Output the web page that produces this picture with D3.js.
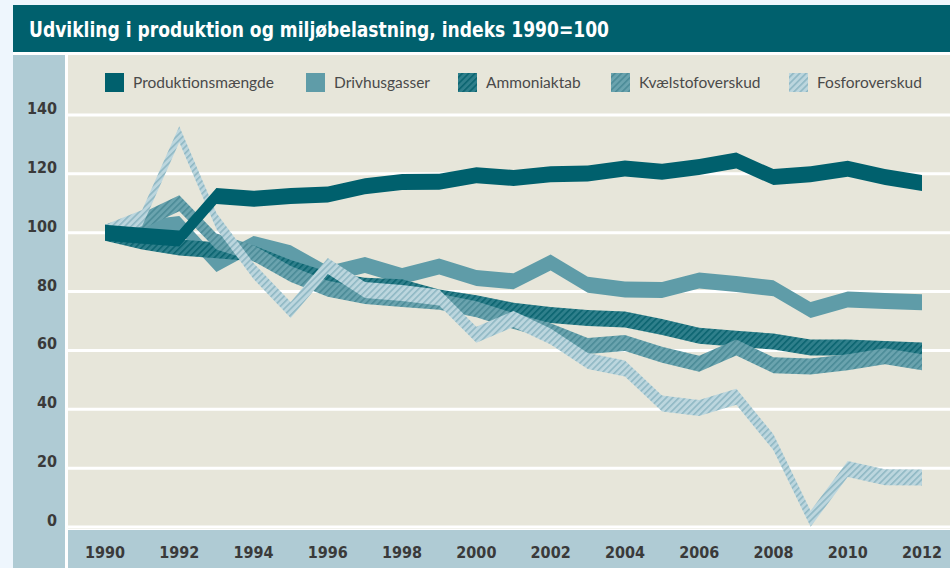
<!DOCTYPE html>
<html>
<head>
<meta charset="utf-8">
<script src="https://cdn.jsdelivr.net/npm/d3@7"></script>
<style>
  html, body { margin: 0; padding: 0; background: #eef6fd; }
  svg { display: block; }
</style>
</head>
<body>
<div id="chart"></div>
<script>
// Data
var years = d3.range(1990, 2013);
var produktion = [100, 99, 98, 112.5, 111.5, 112.5, 113, 115.8, 117.2, 117.3, 119.5, 118.6, 119.9, 120.1, 121.8, 120.7, 122.3, 124.5, 118.9, 119.9, 121.7, 118.9, 116.9];
var drivhus = [100, 101.5, 103, 89.4, 96.2, 93, 86, 89, 85.3, 88.5, 84.6, 83.5, 89.9, 82.3, 80.7, 80.5, 83.8, 82.6, 81.1, 73.7, 77.3, 76.8, 76.4];
var ammoniak = [100, 97, 95, 94, 93, 88, 84, 82, 81.5, 78, 76, 73.5, 72, 71, 70.5, 68, 65, 64, 63, 61, 61, 60.5, 60];
var kvaelstof = [100, 104, 110, 97, 93, 86, 81, 78.5, 77.5, 76.5, 74, 70, 66.5, 61.5, 62.5, 58.5, 55.5, 61, 55, 54.5, 56, 58, 56];
var fosfor = [100, 105, 133.5, 104, 87, 73.7, 88.7, 80.5, 79.5, 78, 65.3, 70.7, 64.7, 56.4, 53.9, 42, 40.4, 44.3, 28.8, 2.8, 19.7, 16.9, 16.8];
var yTicks = [0, 20, 40, 60, 80, 100, 120, 140];
var xTicks = [1990, 1992, 1994, 1996, 1998, 2000, 2002, 2004, 2006, 2008, 2010, 2012];

var series = [
  { name: 'Drivhusgasser', values: drivhus, fill: '#5f9ca8' },
  { name: 'Ammoniaktab', values: ammoniak, fill: 'url(#hatch-amm)' },
  { name: 'Kvælstofoverskud', values: kvaelstof, fill: 'url(#hatch-kv)' },
  { name: 'Fosforoverskud', values: fosfor, fill: 'url(#hatch-fos)' },
  { name: 'Produktionsmængde', values: produktion, fill: '#00606d' }
];
var legendOrder = ['Produktionsmængde', 'Drivhusgasser', 'Ammoniaktab', 'Kvælstofoverskud', 'Fosforoverskud'];
var legendX = [105, 306, 458, 611, 789];

var W = 950, H = 568;
var COND = '"Liberation Sans Narrow", "DejaVu Sans Condensed", "Roboto Condensed", sans-serif';
var LEG = 'Lato, "Open Sans", sans-serif';

var svg = d3.select('#chart').append('svg').attr('width', W).attr('height', H);
var defs = svg.append('defs');

function hatch(id, base, stripe) {
  var p = defs.append('pattern').attr('id', id).attr('patternUnits', 'userSpaceOnUse')
    .attr('width', 4.5).attr('height', 4.5).attr('patternTransform', 'rotate(45)');
  p.append('rect').attr('width', 4.5).attr('height', 4.5).attr('fill', base);
  p.append('rect').attr('width', 1.6).attr('height', 4.5).attr('fill', stripe);
}
hatch('hatch-amm', '#2f7f8b', '#0b6470');
hatch('hatch-kv', '#6aa3ae', '#4b8b97');
hatch('hatch-fos', '#bcd6de', '#8fb8c4');

// Frame pieces
svg.append('rect').attr('x', 13).attr('y', 5).attr('width', W - 13).attr('height', 47).attr('fill', '#00606d');
svg.append('rect').attr('x', 13).attr('y', 52).attr('width', W - 13).attr('height', H - 52).attr('fill', '#ffffff');
svg.append('rect').attr('x', 13).attr('y', 55).attr('width', 52).attr('height', H - 55).attr('fill', '#afcbd4');
svg.append('rect').attr('x', 68).attr('y', 55).attr('width', W - 68).attr('height', 474).attr('fill', '#e7e6da');
svg.append('rect').attr('x', 68).attr('y', 530).attr('width', W - 68).attr('height', H - 530).attr('fill', '#afcbd4');

svg.append('text').attr('x', 29).attr('y', 37)
  .attr('fill', '#ffffff').attr('font-family', COND).attr('font-weight', 'bold').attr('font-size', '22px')
  .attr('textLength', 580).attr('lengthAdjust', 'spacingAndGlyphs')
  .text('Udvikling i produktion og miljøbelastning, indeks 1990=100');

// Scales
var x = d3.scaleLinear().domain([1990, 2012]).range([105, 922]);
var y = d3.scaleLinear().domain([0, 140]).range([527, 115]);

var g = svg.append('g');

// Grid
g.append('g').selectAll('line').data(yTicks).join('line')
  .attr('x1', 68).attr('x2', W).attr('y1', function(d) { return y(d); }).attr('y2', function(d) { return y(d); })
  .attr('stroke', '#ffffff').attr('stroke-width', 3);

// Y axis labels
svg.append('g').selectAll('text').data(yTicks).join('text')
  .attr('x', 57).attr('y', function(d) { return y(d) - 1; })
  .attr('text-anchor', 'end').attr('fill', '#3a3a3a')
  .attr('font-family', COND).attr('font-weight', 'bold').attr('font-size', '16px')
  .text(function(d) { return d; });

// X axis labels
svg.append('g').selectAll('text').data(xTicks).join('text')
  .attr('x', function(d) { return x(d); }).attr('y', 558)
  .attr('text-anchor', 'middle').attr('fill', '#3a3a3a')
  .attr('font-family', COND).attr('font-weight', 'bold').attr('font-size', '16px')
  .text(function(d) { return d; });

// Ribbons
var half = 8;
var area = d3.area()
  .x(function(d, i) { return x(years[i]); })
  .y0(function(d) { return y(d) - half; })
  .y1(function(d) { return y(d) + half; });

g.selectAll('path.band').data(series).join('path')
  .attr('class', 'band')
  .attr('d', function(s) { return area(s.values); })
  .attr('fill', function(s) { return s.fill; });

// Legend
var byName = {};
series.forEach(function(s) { byName[s.name] = s; });
var leg = svg.append('g');
legendOrder.forEach(function(name, i) {
  var lx = legendX[i];
  leg.append('rect').attr('x', lx).attr('y', 73).attr('width', 19).attr('height', 19)
    .attr('fill', byName[name].fill);
  leg.append('text').attr('x', lx + 28).attr('y', 88)
    .attr('fill', '#4a4a4a').attr('font-family', LEG).attr('font-size', '15.5px')
    .text(name);
});
</script>
</body>
</html>
